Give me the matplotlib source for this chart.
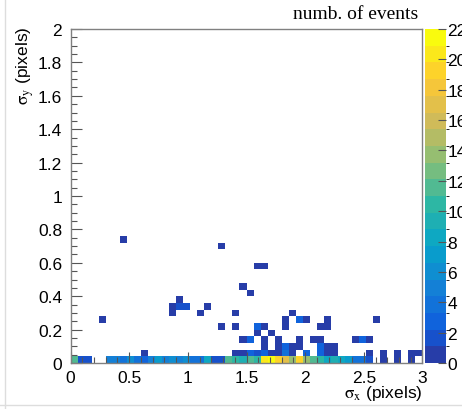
import numpy as np
import matplotlib
matplotlib.use("Agg")
import matplotlib.pyplot as plt
from matplotlib.colors import LinearSegmentedColormap, ListedColormap, BoundaryNorm
from matplotlib.ticker import MultipleLocator, FuncFormatter
from matplotlib.lines import Line2D

plt.rcParams["font.family"] = ["Liberation Sans", "DejaVu Sans"]
plt.rcParams["mathtext.fontset"] = "stix"

# binning of the 2D histogram: 50 x 50 bins
x_edges = np.linspace(0, 3, 51)
y_edges = np.linspace(0, 2, 51)

# lowest sigma_y row (0 - 0.04), counts per sigma_x bin
row0_counts = [11, 2, 2, 0, 0, 5, 5, 4, 6, 4,
               3, 5, 7, 5, 6, 5, 6, 4, 4, 8,
               2, 2, 11, 10, 9, 11, 10, 20, 22, 19,
               17, 14, 19, 14, 12, 10, 8, 9, 8, 7,
               4, 4, 2, 0, 1, 0, 1, 0, 1, 0]

# the other filled cells: sigma_x, sigma_y (bin centres) and counts
sx = [0.03, 0.63, 0.27, 0.45, 0.87, 0.87, 0.93, 0.93, 0.99, 1.11, 1.17,
      1.29, 1.29, 1.41, 1.41, 1.47, 1.53, 1.59, 1.65,
      1.41, 1.47, 1.53, 1.59, 1.65, 1.71, 1.77, 1.83, 1.89, 2.01, 2.13, 2.19, 2.25, 2.55, 2.67, 2.79, 2.91, 2.97,
      1.65, 1.77, 1.83, 1.89, 1.95, 2.13, 2.19, 2.25,
      1.47, 1.53, 1.65, 1.77, 1.95, 2.07, 2.13, 2.43, 2.49, 2.55,
      1.59, 1.71,
      1.59, 1.65, 1.83, 2.13, 2.19,
      1.83, 1.95, 2.01, 2.19, 2.61,
      1.89]
sy = [0.02, 0.06, 0.26, 0.74, 0.30, 0.34, 0.34, 0.38, 0.34, 0.30, 0.34,
      0.70, 0.22, 0.22, 0.30, 0.46, 0.42, 0.58, 0.58,
      0.06, 0.06, 0.06, 0.06, 0.06, 0.06, 0.06, 0.06, 0.06, 0.06, 0.06, 0.06, 0.06, 0.06, 0.06, 0.06, 0.06, 0.06,
      0.10, 0.10, 0.10, 0.10, 0.10, 0.10, 0.10, 0.10,
      0.14, 0.14, 0.14, 0.14, 0.14, 0.14, 0.14, 0.14, 0.14, 0.14,
      0.18, 0.18,
      0.22, 0.22, 0.22, 0.22, 0.22,
      0.26, 0.26, 0.26, 0.26, 0.26,
      0.30]
sn = [1, 1, 1, 1, 1, 1, 2, 1, 2, 1, 1,
      1, 1, 1, 1, 1, 1, 1, 1,
      1, 1, 3, 2, 3, 1, 1, 4, 1, 3, 3, 1, 1, 1, 1, 1, 1, 1,
      1, 1, 3, 1, 1, 3, 1, 1,
      1, 3, 1, 1, 1, 1, 1, 1, 3, 1,
      1, 1,
      3, 1, 1, 1, 1,
      1, 3, 1, 1, 1,
      1]

x_centres = 0.5 * (x_edges[:-1] + x_edges[1:])
all_x = np.concatenate([x_centres, sx])
all_y = np.concatenate([np.full(50, 0.02), sy])
all_w = np.concatenate([row0_counts, sn])
H, _, _ = np.histogram2d(all_x, all_y, bins=[x_edges, y_edges], weights=all_w)
H = np.ma.masked_equal(H.T, 0)

# ROOT "bird" palette, 20 contour levels
stops = [0.0, 0.125, 0.25, 0.375, 0.5, 0.625, 0.75, 0.875, 1.0]
red = [0.2082, 0.0592, 0.0780, 0.0232, 0.1802, 0.5301, 0.8186, 0.9956, 0.9764]
green = [0.1664, 0.3599, 0.5041, 0.6419, 0.7178, 0.7492, 0.7328, 0.7862, 0.9832]
blue = [0.5293, 0.8684, 0.8385, 0.7914, 0.6425, 0.4662, 0.3499, 0.1968, 0.0539]
bird = LinearSegmentedColormap.from_list(
    "bird", [(s, (r, g, b)) for s, r, g, b in zip(stops, red, green, blue)])
nlev = 20
cmap = ListedColormap([bird((k + 0.99) / nlev) for k in range(nlev)])
levels = np.linspace(0, 22, nlev + 1)
norm = BoundaryNorm(levels, nlev)

fig = plt.figure(figsize=(4.62, 4.10), dpi=100)
ax = fig.add_axes([0.1526, 0.1122, 0.7619, 0.8146])
cax = fig.add_axes([0.920, 0.1122, 0.045, 0.8146])

# faint canvas border seen on the left and bottom
fig.add_artist(Line2D([0.011, 0.011], [0.0, 1.0], color="#dddddd", lw=1))
fig.add_artist(Line2D([0.0, 1.0], [0.01, 0.01], color="#dddddd", lw=1))

mesh = ax.pcolormesh(x_edges, y_edges, H, cmap=cmap, norm=norm)
ax.set_xlim(0, 3)
ax.set_ylim(0, 2)

gray = "#808080"
for s in ax.spines.values():
    s.set_color(gray)
    s.set_linewidth(1.0)

ax.xaxis.set_major_locator(MultipleLocator(0.5))
ax.xaxis.set_minor_locator(MultipleLocator(0.1))
ax.yaxis.set_major_locator(MultipleLocator(0.2))
ax.yaxis.set_minor_locator(MultipleLocator(0.05))
fmt = FuncFormatter(lambda v, p: "%g" % round(v, 3))
ax.xaxis.set_major_formatter(fmt)
ax.yaxis.set_major_formatter(fmt)
ax.tick_params(which="both", direction="in", color="#555555", labelsize=12.5,
               top=False, right=False)
ax.tick_params(which="major", length=8, width=0.8)
ax.tick_params(which="minor", length=4, width=0.8)
ax.tick_params(axis="y", pad=6)
ax.tick_params(axis="x", pad=5)

# axis titles placed like the ROOT canvas
fig.text(0.054, 0.935, r"$\mathrm{\sigma_{y}}$ (pixels)", fontsize=12.5,
         rotation=90, ha="center", va="top")
fig.text(0.914, 0.016, r"$\mathrm{\sigma_{x}}$ (pixels)", fontsize=12.5,
         ha="right", va="bottom")

cb = fig.colorbar(mesh, cax=cax, ticks=np.arange(0, 23, 2))
cb.outline.set_visible(False)
cax.tick_params(direction="in", length=6, color="#555555", labelsize=12.5, pad=1)

fig.text(0.905, 0.945, "numb. of events", family="Liberation Serif",
         fontsize=14, ha="right", va="bottom")

fig.savefig("out.png", dpi=100)
